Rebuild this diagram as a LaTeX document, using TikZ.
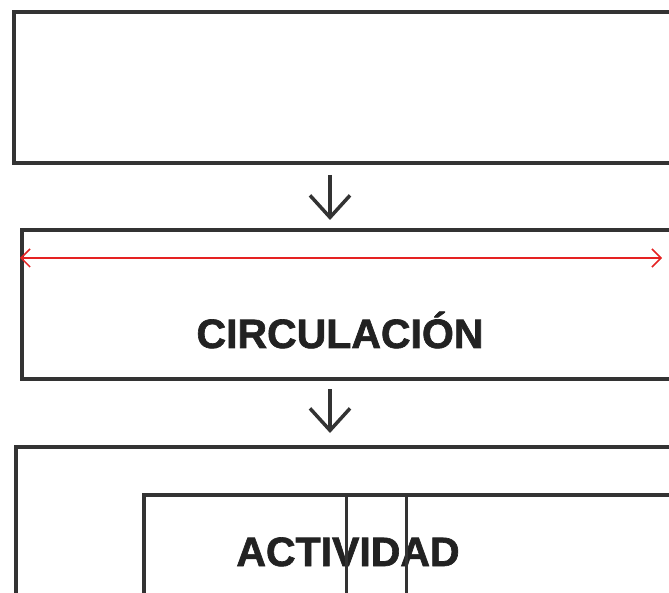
\documentclass[tikz,border=0pt]{standalone}
\usepackage{fontspec}
\setmainfont{Liberation Sans}
\newfontfamily\heavyfont[FakeBold=1.6]{Liberation Sans Bold}
\usetikzlibrary{arrows.meta,positioning,calc}
\definecolor{boxline}{HTML}{333333}
\definecolor{measred}{HTML}{E52222}
\definecolor{titletext}{HTML}{222222}

\begin{document}
\begin{tikzpicture}[x=1pt, y=-1pt,
  panel/.style={draw=boxline, line width=4pt, anchor=north west, inner sep=0pt, minimum width=700pt},
  title/.style={font=\fontsize{41}{41}\selectfont\heavyfont, text=titletext, inner sep=0pt, anchor=base},
  arr/.style={-{Straight Barb[length=22pt,width=40pt]}, line width=3.5pt, boxline},
  meas/.style={{Straight Barb[length=9pt,width=18pt]}-{Straight Barb[length=9pt,width=18pt]}, line width=1.5pt, measred},
  divider/.style={line width=3pt, boxline}
]
  \useasboundingbox (0,0) rectangle (669,593);
  \coordinate (axis) at (330,0);

  \node[panel, minimum height=151pt] (top) at (12,10) {};
  \node[panel, minimum height=149pt] (circ) at (20,228) {};
  \node[title] (circtext) at (340,348) {CIRCULACIÓN};
  \node[panel, minimum height=300pt] (zone) at (14,445) {};
  \node[panel, line width=3.5pt, minimum height=200pt] (act) at (142,493) {};
  \node[title] (acttext) at (348,566) {ACTIVIDAD};

  % measurement across the circulation band
  \coordinate (measL) at ([yshift=-30pt]circ.north west);
  \coordinate (measR) at ([xshift=642pt]measL);
  \draw[meas] (measL) -- (measR);

  % split lines inside the activity box
  \draw[divider] ([xshift=204pt]act.north west) -- ++(0,110);
  \draw[divider] ([xshift=264pt]act.north west) -- ++(0,110);

  \draw[arr, shorten <=10pt, shorten >=8pt] (top.south -| axis) -- (circ.north -| axis);
  \draw[arr, shorten <=8pt, shorten >=12pt] (circ.south -| axis) -- (zone.north -| axis);
\end{tikzpicture}
\end{document}
